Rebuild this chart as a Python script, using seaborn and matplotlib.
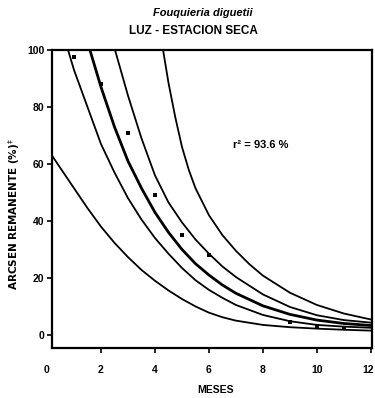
import matplotlib
matplotlib.use("Agg")
import matplotlib.pyplot as plt
import matplotlib.transforms as mtransforms
import numpy as np
import pandas as pd
import seaborn as sns

# Observed residue (arcsine-transformed % remaining) by month
obs_meses = [1, 2, 3, 4, 5, 6, 9, 10, 11]
obs_valor = [97.5, 88, 71, 49, 35, 28, 4.6, 3.0, 2.5]

# Fitted decay curve (centre) and its inner / outer bands
fit_meses = [1.59, 2.0, 2.5, 3.0, 3.5, 4.0, 4.5, 5.0, 5.5, 6.0, 6.5, 7.0, 8.0, 9.0, 10.0, 11.0, 12.0]
fit_valor = [100, 87, 73, 61, 51.5, 43, 36, 30, 25, 21, 17.5, 14.6, 10.2, 7.2, 5.2, 4.0, 3.3]

inf_meses = [0.78, 1.0, 1.5, 2.0, 2.5, 3.0, 3.5, 4.0, 4.5, 5.0, 5.5, 6.0, 6.5, 7.0, 8.0, 9.0, 10.0, 11.0, 12.0]
inf_valor = [100, 93, 80, 67, 57, 48, 40.5, 34, 28.5, 23.5, 19.2, 15.8, 13, 10.5, 7, 4.8, 3.5, 2.9, 2.5]

sup_meses = [2.52, 3.0, 3.5, 4.0, 4.5, 5.0, 5.5, 6.0, 6.5, 7.0, 8.0, 9.0, 10.0, 11.0, 12.0]
sup_valor = [100, 84, 69, 56, 46.5, 39.5, 33.5, 28.5, 24, 20.3, 14.2, 9.8, 6.9, 5.2, 4.3]

pred_inf_meses = [0.18, 0.5, 1.0, 1.5, 2.0, 2.5, 3.0, 3.5, 4.0, 4.5, 5.0, 5.5, 6.0, 6.5, 7.0, 8.0, 9.0, 10.0, 11.0, 12.0]
pred_inf_valor = [63, 58.5, 51.5, 44.5, 38, 32.3, 27.3, 22.8, 19, 15.6, 12.6, 10, 7.8, 6.2, 5, 3.5, 2.7, 2.2, 1.8, 1.5]

pred_sup_meses = [4.3, 4.5, 4.75, 5.0, 5.25, 5.5, 6.0, 6.5, 7.0, 7.5, 8.0, 9.0, 10.0, 11.0, 12.0]
pred_sup_valor = [100, 88.5, 76.5, 66, 58, 51.5, 42, 35, 29.5, 24.8, 20.8, 14.8, 10.5, 7.5, 5.4]

x_ticks = [0, 2, 4, 6, 8, 10, 12]
y_ticks = [0, 20, 40, 60, 80, 100]

sns.set_theme(style="ticks")
plt.rcParams["font.family"] = ["Liberation Sans", "DejaVu Sans"]
plt.rcParams["text.color"] = "black"
plt.rcParams["axes.labelcolor"] = "black"

fig = plt.figure(figsize=(3.75, 3.98), dpi=100)
ax = fig.add_axes([47 / 375, 1 - 348 / 398, (372 - 47) / 375, (348 - 50) / 398])

curvas = [
    (pred_inf_meses, pred_inf_valor, 1.3),
    (inf_meses, inf_valor, 1.3),
    (fit_meses, fit_valor, 2.0),
    (sup_meses, sup_valor, 1.3),
    (pred_sup_meses, pred_sup_valor, 1.3),
]
for meses, valor, lw in curvas:
    df = pd.DataFrame({"mes": meses, "valor": valor})
    sns.lineplot(data=df, x="mes", y="valor", color="black", linewidth=lw,
                 ax=ax, sort=True, estimator=None)

df_obs = pd.DataFrame({"mes": obs_meses, "valor": obs_valor})
sns.scatterplot(data=df_obs, x="mes", y="valor", color="black", marker="s",
                s=9, linewidth=0, ax=ax, zorder=5)

# Box frame starting just right of the zero month
ax.spines["left"].set_position(("data", 0.18))
for side in ("top", "bottom"):
    ax.spines[side].set_bounds(0.18, 12.04)
for s in ax.spines.values():
    s.set_linewidth(1.6)
    s.set_color("black")

ax.set_xlim(0, 12.04)
ax.set_ylim(-4.6, 100)
ax.set_xticks(x_ticks)
ax.set_yticks(y_ticks)
ax.set_xticklabels([str(v) for v in x_ticks], fontsize=7.5, fontweight="bold")
ax.set_yticklabels([str(v) for v in y_ticks], fontsize=7.5, fontweight="bold")
ax.tick_params(axis="both", direction="out", length=3.5, width=1.2,
               colors="black", pad=2)
ax.tick_params(axis="x", pad=9)
ax.xaxis.get_major_ticks()[0].tick1line.set_visible(False)

# Keep the last month label inside the figure edge
last = ax.get_xticklabels()[-1]
last.set_horizontalalignment("right")
last.set_transform(last.get_transform() +
                   mtransforms.ScaledTranslation(3 / 100, 0, fig.dpi_scale_trans))

ax.set_xlabel("MESES", fontsize=7.5, fontweight="bold", color="black")
ax.set_ylabel("ARCSEN REMANENTE (%)$^{\u2021}$", fontsize=7.5, fontweight="bold",
              family=["DejaVu Sans"], color="black")
ax.xaxis.set_label_coords(0.517, -0.125)
ax.yaxis.set_label_coords(-0.078, 0.45)

ax.text(7.9, 66.5, "r² = 93.6 %", fontsize=8, fontweight="bold", ha="center",
        va="center", color="black")

fig.text(203 / 375, 1 - 13 / 398, "Fouquieria diguetii", fontsize=8,
         fontstyle="italic", fontweight="bold", ha="center", va="center",
         color="black")
fig.text(193 / 375, 1 - 31 / 398, "LUZ - ESTACION SECA", fontsize=8.5,
         fontweight="bold", ha="center", va="center", color="black")

fig.savefig("out.png", dpi=100, facecolor="white")
